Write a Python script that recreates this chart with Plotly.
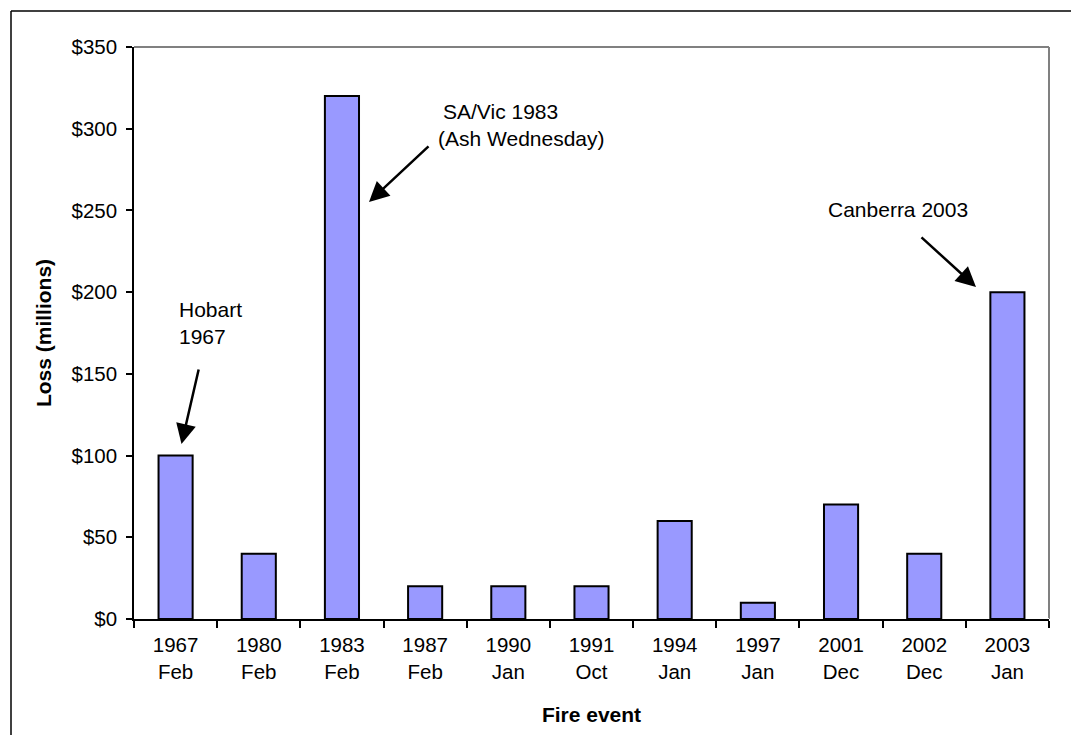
import plotly.graph_objects as go

years = ["1967", "1980", "1983", "1987", "1990", "1991", "1994", "1997", "2001", "2002", "2003"]
months = ["Feb", "Feb", "Feb", "Feb", "Jan", "Oct", "Jan", "Jan", "Dec", "Dec", "Jan"]
loss = [100, 40, 320, 20, 20, 20, 60, 10, 70, 40, 200]
categories = [f"{y}<br>{m}" for y, m in zip(years, months)]

FONT = "Liberation Sans, Arial, sans-serif"

fig = go.Figure()
fig.add_trace(go.Bar(
    x=categories, y=loss,
    marker=dict(color="#9999FF", line=dict(color="black", width=2)),
    width=0.41,
))

OFF = 8  # page body margin offset
W, H = 1079 - OFF, 735 - OFF
L, T = 134 - OFF, 47 - OFF
R = W - (1049 - OFF)
B = H - (619 - OFF)
pw, ph = W - L - R, H - T - B

def px(xp):
    return (xp - OFF - L) / pw

def py(yp):
    return 1 - (yp - OFF - T) / ph

shapes = [
    dict(type="line", xref="paper", yref="paper", x0=px(11), x1=px(1085), y0=py(11), y1=py(11),
         line=dict(color="black", width=1.5)),
    dict(type="line", xref="paper", yref="paper", x0=px(11), x1=px(11), y0=py(11), y1=py(745),
         line=dict(color="black", width=1.5)),
    dict(type="line", xref="paper", yref="paper", x0=0, x1=1, y0=1, y1=1,
         line=dict(color="#808080", width=2), layer="below"),
    dict(type="line", xref="paper", yref="paper", x0=1, x1=1, y0=0, y1=1,
         line=dict(color="#808080", width=2), layer="below"),
]

annots = []
tf = dict(family=FONT, size=21, color="black")
annots.append(dict(x=px(177), y=py(323.5), xref="paper", yref="paper", text="Hobart<br>1967",
                   showarrow=False, xanchor="left", yanchor="middle", align="left", font=tf))
annots.append(dict(x=px(441), y=py(111), xref="paper", yref="paper", text="SA/Vic 1983",
                   showarrow=False, xanchor="left", yanchor="middle", font=tf))
annots.append(dict(x=px(436), y=py(138), xref="paper", yref="paper", text="(Ash Wednesday)",
                   showarrow=False, xanchor="left", yanchor="middle", font=tf))
annots.append(dict(x=px(826), y=py(209), xref="paper", yref="paper", text="Canberra 2003",
                   showarrow=False, xanchor="left", yanchor="middle", font=tf))

arrows = [((181.5, 444), (199, 368)), ((369, 202), (430, 145)), ((976, 287), (920, 236))]
for (hx, hy), (tx, ty) in arrows:
    annots.append(dict(x=px(hx), y=py(hy), xref="paper", yref="paper", text="",
                       showarrow=True, ax=tx - hx, ay=ty - hy, axref="pixel", ayref="pixel",
                       arrowhead=2, arrowsize=1.6, arrowwidth=2.5, arrowcolor="black", standoff=0))

fig.update_layout(
    width=W, height=H,
    margin=dict(l=L, r=R, t=T, b=B, autoexpand=False),
    paper_bgcolor="white", plot_bgcolor="white",
    font=dict(family=FONT, size=20, color="black"),
    showlegend=False,
    shapes=shapes,
    annotations=annots,
    xaxis=dict(
        type="category", showline=True, linecolor="black", linewidth=1.5,
        ticks="outside", tickson="boundaries", ticklen=7, tickcolor="black", tickwidth=1.5,
        showgrid=False, tickfont=dict(size=20.5), ticklabelstandoff=7,
        title=dict(text="<b>Fire event</b>", font=dict(size=21), standoff=25),
        automargin=False, range=[-0.5, 10.5],
    ),
    yaxis=dict(
        range=[0, 350], dtick=50, tickprefix="$", showline=True, linecolor="black", linewidth=1.5,
        ticks="outside", ticklen=6, tickcolor="black", tickwidth=1.5, showgrid=False,
        tickfont=dict(size=20.5), ticklabelstandoff=5,
        title=dict(text="<b>Loss (millions)</b>", font=dict(size=21), standoff=14),
        automargin=False,
    ),
)

fig.write_html("out.html")
